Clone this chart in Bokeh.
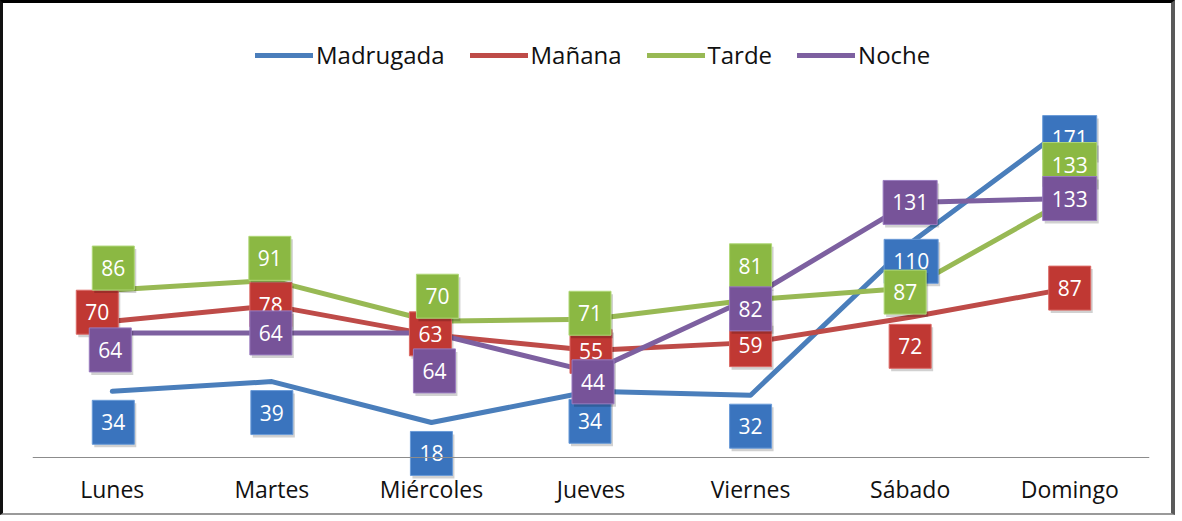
from bokeh.plotting import figure
from bokeh.models import ColumnDataSource, Legend, LegendItem, Range1d, FactorRange
from bokeh.core.properties import value
from bokeh.embed import file_html
from bokeh.resources import INLINE

# ---- data ----
dias = ["Lunes", "Martes", "Miércoles", "Jueves", "Viernes", "Sábado", "Domingo"]
madrugada = [34, 39, 18, 34, 32, 110, 171]
manana = [70, 78, 63, 55, 59, 72, 87]
tarde = [86, 91, 70, 71, 81, 87, 133]
noche = [64, 64, 64, 44, 82, 131, 133]
series_names = ["Madrugada", "Mañana", "Tarde", "Noche"]

# ---- styling ----
line_colors = ["#4A7EBB", "#BE4B48", "#98B954", "#7D60A0"]
box_colors = ["#3A74BE", "#C03833", "#8BB843", "#775399"]
box_borders = ["#6A9BD8", "#DB6A66", "#B0D878", "#9A7CC0"]
# label box offsets in screen pixels (dx, dy; dy positive = down)
label_dx = [
    [1, 0, 0, -1, 0, 1, 0],
    [-15, -1, -1, 0, 0, 0, 0],
    [1, -2, 6, -1, 0, -5, 0],
    [-2, -1, 3, 2, 0, 0, 0],
]
label_dy = [
    [31, 31, 31, 30, 31, 18, 13],
    [-9, -1, -1, 1, 2, 29, 0],
    [-22, -22, -25, -6, -34, 4, -34],
    [17, 0, 38, 10, 11, 0, 0],
]

FONT_NAME = "Open Sans"
FONT = value(FONT_NAME)

PX_PER_UNIT = 1.947          # vertical scale of the plot area
ABOVE_ZERO_PX = 428          # frame pixels above the zero line
BELOW_ZERO_PX = 56           # frame pixels below the zero line (room for labels)

p = figure(
    width=1175, height=515,
    x_range=FactorRange(*dias, range_padding=0),
    y_range=Range1d(-BELOW_ZERO_PX / PX_PER_UNIT, ABOVE_ZERO_PX / PX_PER_UNIT),
    output_backend="svg", toolbar_location=None,
    min_border_left=29, min_border_right=29, min_border_top=26, min_border_bottom=5,
    background_fill_color="white", border_fill_color="white",
)
p.styles = {
    "border-top": "3px solid #000000",
    "border-left": "3px solid #111111",
    "border-right": "4px solid #5a5a5a",
    "border-bottom": "2px solid #9a9a9a",
}
p.outline_line_color = None
p.xgrid.visible = False
p.ygrid.visible = False
p.yaxis.visible = False

xa = p.xaxis[0]
xa.fixed_location = 0
xa.axis_line_color = "#8C8C8C"
xa.axis_line_width = 1.2
xa.major_tick_line_color = None
xa.minor_tick_line_color = None
xa.major_label_text_font = FONT_NAME
xa.major_label_text_font_size = "23px"
xa.major_label_text_color = "#111111"
xa.major_label_standoff = 9

all_series = [madrugada, manana, tarde, noche]

renderers = []
for vals, col in zip(all_series, line_colors):
    r = p.line(dias, vals, line_color=col, line_width=5, line_cap="round", line_join="round")
    renderers.append(r)

for i, vals in enumerate(all_series):
    src = ColumnDataSource(dict(
        x=dias, y=vals, t=[str(v) for v in vals],
        xo=label_dx[i], yo=label_dy[i],
        xs=[d + 2 for d in label_dx[i]], ys=[d + 3 for d in label_dy[i]],
    ))
    # shadow
    p.text(x="x", y="y", text="t", x_offset="xs", y_offset="ys", source=src,
           text_align="center", text_baseline="middle", text_font=FONT,
           text_font_size="21px", text_alpha=0,
           background_fill_color="#000000", background_fill_alpha=0.18,
           padding=(9, 14))
    p.text(x="x", y="y", text="t", x_offset="xo", y_offset="yo", source=src,
           text_align="center", text_baseline="middle", text_font=FONT,
           text_font_size="21px", text_color="white",
           background_fill_color=box_colors[i],
           border_line_color=box_borders[i], border_line_width=1,
           padding=(9, 14))

legend = Legend(
    items=[LegendItem(label=n, renderers=[r]) for n, r in zip(series_names, renderers)],
    orientation="horizontal", location=(223, 442),
    label_text_font=FONT_NAME, label_text_font_size="24px", label_text_color="#111111",
    glyph_width=58, glyph_height=20, label_standoff=3, spacing=25,
    padding=0, margin=0, border_line_color=None, background_fill_alpha=0,
)
p.add_layout(legend, "center")

open("out.html", "w").write(file_html(p, INLINE))
